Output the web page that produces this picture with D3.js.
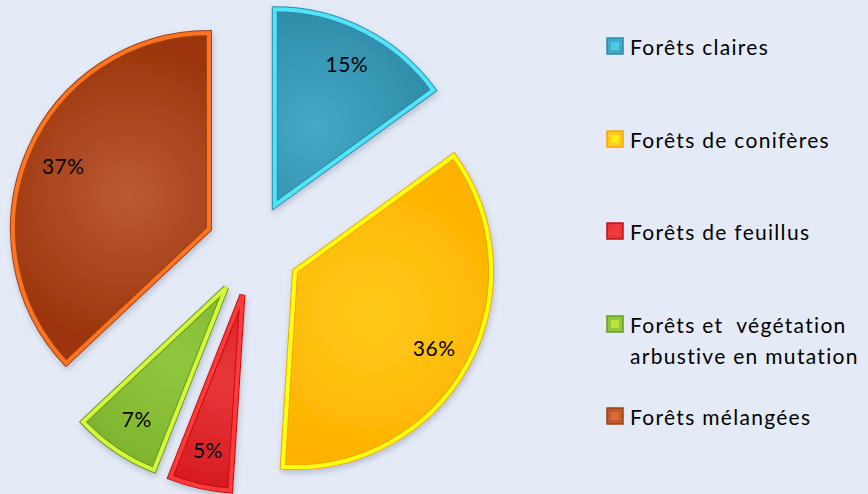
<!DOCTYPE html>
<html><head><meta charset="utf-8">
<script src="https://cdn.jsdelivr.net/npm/d3@7"></script>
<style>
html,body{margin:0;padding:0;background:#e5ebf6;}
svg{display:block;}
text{font-family:Lato,"Open Sans",sans-serif;fill:#000;}
</style></head>
<body>
<svg id="chart" width="868" height="494"></svg>
<script>
const categories = ["Forêts claires","Forêts de conifères","Forêts de feuillus","Forêts et  végétation|arbustive en mutation","Forêts mélangées"];
const values = [15, 36, 5, 7, 37];
const labels = ["15%","36%","5%","7%","37%"];
const fillInner = ["#45a9c6","#ffca1c","#e8373a","#92c840","#bb5a35"];
const fillOuter = ["#2a86a3","#ffb300","#cf1218","#78ae28","#9c360c"];
const borderCol = ["#52e4f8","#ffff10","#ff3a3a","#d6f83c","#ff7420"];
const edgeCol   = ["#2b8aa8","#f0a800","#c01010","#6a9a20","#a0400c"];

const svg = d3.select("#chart");
const cx = 253, cy = 248, R = 196, explode = 48;

const defs = svg.append("defs");
const f = defs.append("filter").attr("id","sh").attr("x","-20%").attr("y","-20%").attr("width","140%").attr("height","140%");
f.append("feDropShadow").attr("dx",1).attr("dy",3).attr("stdDeviation",3).attr("flood-color","#5a6a8a").attr("flood-opacity",0.35);

const pie = d3.pie().sort(null).value(d=>d);
const arcs = pie(values);
const arc = d3.arc().innerRadius(0).outerRadius(R);
const labelArc = d3.arc().innerRadius(R*0.81).outerRadius(R*0.81);

arcs.forEach((a,i)=>{
  const gc = labelArc.centroid(a);
  const gr = defs.append("radialGradient").attr("id","g"+i)
    .attr("gradientUnits","userSpaceOnUse")
    .attr("cx",gc[0]*0.55).attr("cy",gc[1]*0.55).attr("r",R*0.75);
  gr.append("stop").attr("offset","0%").attr("stop-color",fillInner[i]);
  gr.append("stop").attr("offset","100%").attr("stop-color",fillOuter[i]);
});

const root = svg.append("g").attr("transform",`translate(${cx},${cy})`);
arcs.forEach((a,i)=>{
  const mid = (a.startAngle+a.endAngle)/2;
  const ox = explode*Math.sin(mid), oy = -explode*Math.cos(mid);
  const g = root.append("g").attr("transform",`translate(${ox},${oy})`);
  g.append("path").attr("d",arc(a)).attr("fill","url(#g"+i+")")
    .attr("stroke",edgeCol[i]).attr("stroke-width",6).attr("stroke-linejoin","miter").attr("filter","url(#sh)");
  g.append("path").attr("d",arc(a)).attr("fill","none")
    .attr("stroke",borderCol[i]).attr("stroke-width",4).attr("stroke-linejoin","miter");
  const c = labelArc.centroid(a);
  g.append("text").attr("x",c[0]).attr("y",c[1]).attr("text-anchor","middle")
    .attr("dominant-baseline","central").attr("font-size",21).attr("letter-spacing",0.5).text(labels[i]);
});

// legend
const legY = [46,139,231,324,416];
const leg = svg.append("g");
categories.forEach((c,i)=>{
  const y = legY[i];
  leg.append("rect").attr("x",607).attr("y",y-8).attr("width",16).attr("height",16)
    .attr("fill",fillInner[i]).attr("stroke",edgeCol[i]).attr("stroke-width",1.5);
  leg.append("rect").attr("x",611).attr("y",y-4).attr("width",8).attr("height",8)
    .attr("fill",borderCol[i]).attr("opacity",0.6);
  const lines = c.split("|");
  lines.forEach((t,j)=>{
    leg.append("text").attr("x",630).attr("y",y+j*31).attr("dominant-baseline","central")
      .attr("font-size",21).attr("letter-spacing",1.3).style("white-space","pre").text(t);
  });
});
</script>
</body></html>
